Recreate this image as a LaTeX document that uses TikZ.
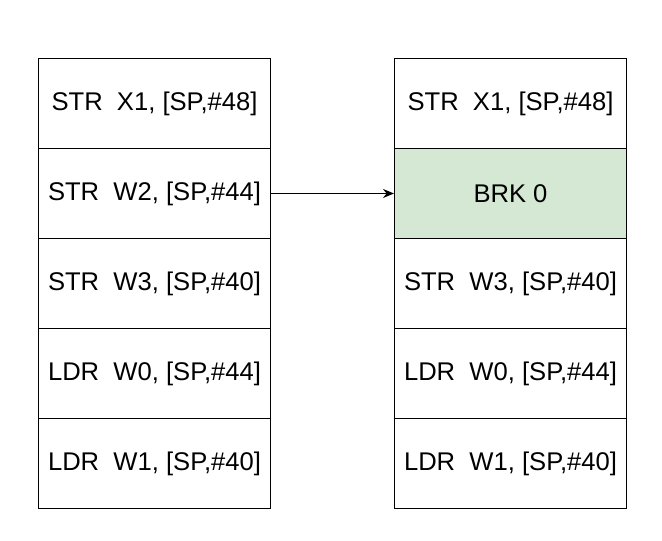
\documentclass[tikz,border=0pt]{standalone}
\usepackage{fontspec}
\setmainfont{Liberation Sans}
\usetikzlibrary{arrows.meta}
\begin{document}
\begin{tikzpicture}[x=1pt,y=-1pt,
  cell/.style={draw=black,line width=1pt,minimum width=232pt,minimum height=90pt,inner sep=0pt,
    font=\fontsize{25.6}{30}\selectfont,anchor=north west},
  brk/.style={cell,fill=brkgreen},
  conn/.style={line width=1pt,-{Stealth[length=11pt,width=9pt]}}]
\definecolor{brkgreen}{HTML}{D5E8D4}
\useasboundingbox (0,0) rectangle (662,541);
\node[cell] (l1) at (38,58) {STR\ \ X1, [SP,\#48]};
\node[cell] (l2) at (38,148) {STR\ \ W2, [SP,\#44]};
\node[cell] (l3) at (38,238) {STR\ \ W3, [SP,\#40]};
\node[cell] (l4) at (38,328) {LDR\ \ W0, [SP,\#44]};
\node[cell] (l5) at (38,418) {LDR\ \ W1, [SP,\#40]};
\node[cell] (r1) at (394,58) {STR\ \ X1, [SP,\#48]};
\node[brk] (r2) at (394,148) {BRK 0};
\node[cell] (r3) at (394,238) {STR\ \ W3, [SP,\#40]};
\node[cell] (r4) at (394,328) {LDR\ \ W0, [SP,\#44]};
\node[cell] (r5) at (394,418) {LDR\ \ W1, [SP,\#40]};
\draw[conn] (l2.east) -- (r2.west);
\end{tikzpicture}
\end{document}
